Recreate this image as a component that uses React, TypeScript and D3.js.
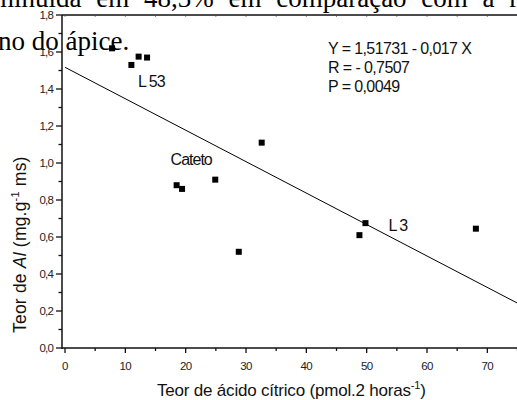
import * as d3 from 'd3';

// citric acid (x) vs Al content (y), one entry per genotype
const citricAcid = [7.8, 12.2, 13.6, 11.0, 32.6, 24.9, 18.5, 19.4, 28.8, 49.8, 48.8, 68.1];
const aluminium = [1.62, 1.575, 1.57, 1.53, 1.11, 0.91, 0.88, 0.86, 0.52, 0.675, 0.61, 0.645];

const xTicks = [0, 10, 20, 30, 40, 50, 60, 70];
const xMinor = [5, 15, 25, 35, 45, 55, 65, 75];
const yTicks = [0, 0.2, 0.4, 0.6, 0.8, 1.0, 1.2, 1.4, 1.6, 1.8];
const yMinor = [0.1, 0.3, 0.5, 0.7, 0.9, 1.1, 1.3, 1.5, 1.7];

const intercept = 1.51731;
const slope = -0.017;
const statLines = ['Y = 1,51731 - 0,017 X', 'R = - 0,7507', 'P = 0,0049'];

const genotypeLabels = ['L 53', 'Cateto', 'L 3'];
const genotypeX = [12.1, 17.5, 53.6];
const genotypeY = [1.41, 0.99, 0.63];

const W = 517;
const H = 400;
const fmt = (v: number) => d3.format('.1f')(v).replace('.', ',');

export default function App() {
  const x = d3.scaleLinear().domain([-0.5, 75]).range([62, 517.5]);
  const y = d3.scaleLinear().domain([0, 1.8]).range([348, 15]);
  const sans = '"Liberation Sans", Arial, sans-serif';
  const ink = '#111';

  const fitLine = d3.line<number>().x(d => x(d)).y(d => y(intercept + slope * d));

  return (
    <svg width={W} height={H} style={{ position: 'absolute', left: 0, top: 0, background: '#fff' }}>
      {/* page text around the figure (justified lines of the thesis) */}
      <g fontFamily='"Liberation Serif", "Times New Roman", serif' fontSize={27} fill="#000">
        <text x={-28} y={7} wordSpacing={8}>diminuída em 48,3% em comparação com a região</text>
        <text x={-2} y={50}>no do ápice.</text>
      </g>

      {/* frame top */}
      <line x1={x.range()[0]} x2={W} y1={y(1.8)} y2={y(1.8)} stroke={ink} strokeWidth={1.5} />
      {xTicks.concat(xMinor).map(t => (
        <line key={'tt' + t} x1={x(t)} x2={x(t)} y1={y(1.8)} y2={y(1.8) + 2} stroke="#555" strokeWidth={0.7} />
      ))}

      {/* axes */}
      <line x1={x.range()[0]} x2={x.range()[0]} y1={y(1.8)} y2={y(0) + 1} stroke={ink} strokeWidth={1.5} />
      <line x1={x.range()[0]} x2={W} y1={y(0)} y2={y(0)} stroke={ink} strokeWidth={1.5} />

      {xTicks.map(t => (
        <g key={'x' + t}>
          <line x1={x(t)} x2={x(t)} y1={y(0)} y2={y(0) + 5} stroke={ink} strokeWidth={1.3} />
          <text x={x(t)} y={370} textAnchor="middle" fontFamily={sans} fontSize={11.5} fill="#222" letterSpacing={-0.6}>
            {t}
          </text>
        </g>
      ))}
      {xMinor.map(t => (
        <line key={'xm' + t} x1={x(t)} x2={x(t)} y1={y(0)} y2={y(0) + 3} stroke={ink} strokeWidth={1.3} />
      ))}

      {yTicks.map(t => (
        <g key={'y' + t}>
          <line x1={x.range()[0] - 6} x2={x.range()[0]} y1={y(t)} y2={y(t)} stroke={ink} strokeWidth={1.3} />
          <text x={53} y={y(t) + 4} textAnchor="end" fontFamily={sans} fontSize={11.5} fill="#222" letterSpacing={-0.8}>
            {fmt(t)}
          </text>
        </g>
      ))}
      {yMinor.map(t => (
        <line key={'ym' + t} x1={x.range()[0] - 3.5} x2={x.range()[0]} y1={y(t)} y2={y(t)} stroke={ink} strokeWidth={1.3} />
      ))}

      {/* regression */}
      <path d={fitLine([0, 75]) || ''} fill="none" stroke="#000" strokeWidth={1} />

      {citricAcid.map((c, i) => (
        <rect key={'p' + i} x={x(c) - 3} y={y(aluminium[i]) - 3} width={6} height={6} fill="#000" />
      ))}

      <g fontFamily={sans} fontSize={16} fill="#111" letterSpacing={-1}>
        {genotypeLabels.map((l, i) => (
          <text key={l} x={x(genotypeX[i])} y={y(genotypeY[i])}>{l}</text>
        ))}
      </g>
      <g fontFamily={sans} fontSize={16} fill="#111" letterSpacing={-0.6}>
        {statLines.map((s, i) => (
          <text key={s} x={328} y={54 + i * 19}>{s}</text>
        ))}
      </g>

      {/* axis titles */}
      <text x={157} y={396} fontFamily={sans} fontSize={17} fill="#111" letterSpacing={-0.2}>
        Teor de ácido cítrico (pmol.2 horas<tspan dy={-7} fontSize={11}>-1</tspan><tspan dy={7}>)</tspan>
      </text>
      <text transform="translate(26,333) rotate(-90)" fontFamily={sans} fontSize={17.5} fill="#111" letterSpacing={0.2}>
        Teor de <tspan fontStyle="italic">Al</tspan> (mg.g<tspan dy={-7} fontSize={11}>-1</tspan><tspan dy={7}> ms)</tspan>
      </text>
    </svg>
  );
}
